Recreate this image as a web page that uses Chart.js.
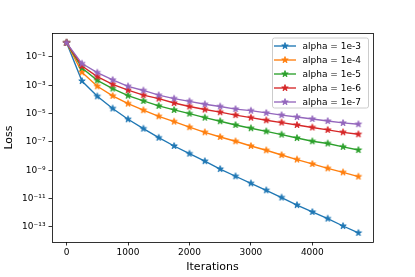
<!DOCTYPE html>
<html>
<head>
<meta charset="utf-8">
<script src="https://cdn.jsdelivr.net/npm/chart.js@4.4.0/dist/chart.umd.min.js"></script>
<style>
  html, body { margin: 0; padding: 0; background: #fff; }
  canvas { display: block; }
</style>
</head>
<body>
<canvas id="lossChart" width="415" height="277"></canvas>
<script>
const iterations = [0, 250, 500, 750, 1000, 1250, 1500, 1750, 2000, 2250, 2500, 2750, 3000, 3250, 3500, 3750, 4000, 4250, 4500, 4750];

const loss1e3 = [1, 2.0e-3, 1.66e-4, 2.3e-5, 4.0e-6, 8.7e-7, 2.0e-7, 5.2e-8, 1.5e-8, 4.4e-9, 1.23e-9, 3.8e-10, 1.2e-10, 3.9e-11, 1.2e-11, 3.5e-12, 1.15e-12, 3.9e-13, 1.17e-13, 3.8e-14];
const loss1e4 = [1, 8.3e-3, 8.5e-4, 1.8e-4, 5.1e-5, 1.74e-5, 6.5e-6, 2.75e-6, 1.1e-6, 4.8e-7, 2.24e-7, 1.12e-7, 5.2e-8, 2.6e-8, 1.2e-8, 5.75e-9, 2.8e-9, 1.38e-9, 7.2e-10, 3.6e-10];
const loss1e5 = [1, 1.66e-2, 2.24e-3, 5.9e-4, 1.86e-4, 7.8e-5, 3.5e-5, 1.82e-5, 1.0e-5, 5.2e-6, 2.9e-6, 1.58e-6, 9.3e-7, 5.6e-7, 3.3e-7, 1.9e-7, 1.12e-7, 7.8e-8, 4.5e-8, 2.7e-8];
const loss1e6 = [1, 2.3e-2, 4.1e-3, 1.17e-3, 4.5e-4, 2.0e-4, 1.15e-4, 5.6e-5, 3.2e-5, 1.95e-5, 1.26e-5, 7.9e-6, 5.2e-6, 3.4e-6, 2.34e-6, 1.58e-6, 1.05e-6, 7.1e-7, 4.8e-7, 3.5e-7];
const loss1e7 = [1, 3.4e-2, 7.9e-3, 2.4e-3, 8.5e-4, 4.3e-4, 2.0e-4, 1.15e-4, 7.4e-5, 4.6e-5, 3.2e-5, 2.1e-5, 1.62e-5, 1.12e-5, 7.9e-6, 5.75e-6, 4.2e-6, 3.0e-6, 2.2e-6, 1.78e-6];

const seriesLabels = ["alpha = 1e-3", "alpha = 1e-4", "alpha = 1e-5", "alpha = 1e-6", "alpha = 1e-7"];
const seriesValues = [loss1e3, loss1e4, loss1e5, loss1e6, loss1e7];
const seriesColors = ["#1f77b4", "#ff7f0e", "#2ca02c", "#d62728", "#9467bd"];

const xTicks = [0, 1000, 2000, 3000, 4000];
const yTicks = [1e-13, 1e-11, 1e-9, 1e-7, 1e-5, 1e-3, 1e-1];

const FONT = "'DejaVu Sans', sans-serif";

// filled 5-point star like matplotlib's '*' marker
function makeStar(color, r) {
  const size = Math.ceil(r * 2 + 3);
  const c = document.createElement("canvas");
  c.width = size;
  c.height = size;
  const ctx = c.getContext("2d");
  const cx = size / 2, cy = size / 2;
  const inner = r * 0.381966;
  ctx.beginPath();
  for (let i = 0; i < 10; i++) {
    const rad = i % 2 === 0 ? r : inner;
    const a = -Math.PI / 2 + i * Math.PI / 5;
    const px = cx + rad * Math.cos(a);
    const py = cy + rad * Math.sin(a);
    if (i === 0) ctx.moveTo(px, py); else ctx.lineTo(px, py);
  }
  ctx.closePath();
  ctx.fillStyle = color;
  ctx.strokeStyle = color;
  ctx.lineWidth = 0.9;
  ctx.fill();
  ctx.stroke();
  return c;
}

function superscript(n) {
  const map = { "-": "\u207b", "0": "\u2070", "1": "\u00b9", "2": "\u00b2", "3": "\u00b3", "4": "\u2074", "5": "\u2075", "6": "\u2076", "7": "\u2077", "8": "\u2078", "9": "\u2079" };
  return String(n).split("").map((ch) => map[ch]).join("");
}

const stars = seriesColors.map((c) => makeStar(c, 3.4));

const frameAndLegend = {
  id: "frameAndLegend",
  afterDatasetsDraw(chart) {
    const ctx = chart.ctx;
    const a = chart.chartArea;
    ctx.save();
    ctx.strokeStyle = "#000";
    ctx.lineWidth = 0.8;
    ctx.strokeRect(Math.round(a.left) + 0.5, Math.round(a.top) + 0.5, Math.round(a.right - a.left), Math.round(a.bottom - a.top));

    // legend box, upper right
    const boxW = 96, boxH = 70;
    const bx = a.right - 5 - boxW, by = a.top + 4.5;
    ctx.beginPath();
    ctx.roundRect(bx + 0.5, by + 0.5, boxW, boxH, 2);
    ctx.fillStyle = "rgba(255,255,255,0.8)";
    ctx.fill();
    ctx.strokeStyle = "#cccccc";
    ctx.lineWidth = 1;
    ctx.stroke();

    ctx.font = "9px " + FONT;
    ctx.textBaseline = "middle";
    ctx.textAlign = "left";
    seriesLabels.forEach((label, i) => {
      const y = by + 8.5 + i * 14;
      ctx.beginPath();
      ctx.moveTo(bx + 2, y);
      ctx.lineTo(bx + 24, y);
      ctx.strokeStyle = seriesColors[i];
      ctx.lineWidth = 1.35;
      ctx.stroke();
      const s = stars[i];
      ctx.drawImage(s, bx + 13 - s.width / 2, y - s.height / 2);
      ctx.fillStyle = "#000";
      ctx.fillText(label, bx + 30.5, y + 0.5);
    });
    ctx.restore();
  }
};

const datasets = seriesValues.map((vals, i) => ({
  label: seriesLabels[i],
  data: iterations.map((x, j) => ({ x: x, y: vals[j] })),
  borderColor: seriesColors[i],
  backgroundColor: seriesColors[i],
  borderWidth: 1.35,
  pointStyle: stars[i],
  pointRadius: 3.4,
  tension: 0,
  order: seriesValues.length - i
}));

new Chart(document.getElementById("lossChart").getContext("2d"), {
  type: "line",
  data: { datasets },
  plugins: [frameAndLegend],
  options: {
    responsive: false,
    animation: false,
    layout: { padding: { top: 33, right: 42, left: 0, bottom: 0 } },
    plugins: { legend: { display: false }, tooltip: { enabled: false } },
    scales: {
      x: {
        type: "linear",
        min: -237.5,
        max: 4987.5,
        afterBuildTicks: (scale) => { scale.ticks = xTicks.map((v) => ({ value: v })); },
        afterFit: (scale) => { scale.height = 35; },
        grid: { display: true, drawOnChartArea: false, drawTicks: true, tickLength: 3.5, color: "#000", lineWidth: 0.8 },
        border: { display: false },
        ticks: { color: "#000", font: { family: FONT, size: 9 }, padding: 2, maxRotation: 0, callback: (v) => String(v) },
        title: { display: true, text: "Iterations", color: "#000", font: { family: FONT, size: 11 }, padding: { top: 0, bottom: 3 } }
      },
      y: {
        type: "logarithmic",
        min: 8.7e-15,
        max: 4.9,
        afterBuildTicks: (scale) => { scale.ticks = yTicks.map((v) => ({ value: v })); },
        afterFit: (scale) => { scale.width = 52; },
        grid: { display: true, drawOnChartArea: false, drawTicks: true, tickLength: 3.5, color: "#000", lineWidth: 0.8 },
        border: { display: false },
        ticks: {
          color: "#000",
          font: { family: FONT, size: 9 },
          padding: 3,
          callback: (v) => "10" + superscript(Math.round(Math.log10(v)))
        },
        title: { display: true, text: "Loss", color: "#000", font: { family: FONT, size: 11 }, padding: { top: 3, bottom: 0 } }
      }
    }
  }
});
</script>
</body>
</html>
